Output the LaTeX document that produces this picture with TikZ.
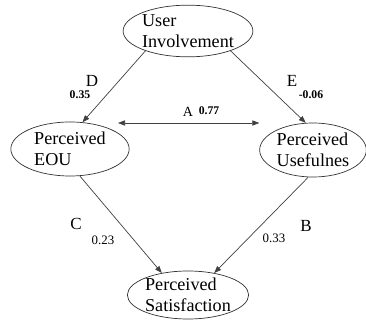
\documentclass[tikz,border=0pt]{standalone}
\usepackage{fontspec}
\setmainfont{Liberation Serif}
\usetikzlibrary{shapes,arrows.meta,positioning}

\begin{document}
\begin{tikzpicture}[x=0.03cm, y=-0.03cm,
    cn/.style={ellipse, draw=black!80, line width=0.6pt, inner sep=0pt, align=left, font=\fontsize{15.5}{18}\selectfont},
    lk/.style={draw=black!75, line width=0.6pt, -{Triangle[length=6pt,width=4.5pt]}},
    ltr/.style={inner sep=0pt, font=\fontsize{14.5}{15}\selectfont},
    val/.style={inner sep=0pt, font=\fontsize{10}{11}\selectfont\bfseries},
    num/.style={inner sep=0pt, font=\fontsize{11}{12}\selectfont}
]
    \useasboundingbox (0,0) rectangle (366,321);

    % Constructs
    \node[cn, minimum width=3.4cm, minimum height=1.55cm] (user) at (188,31) {User\\Involvement};
    \node[cn, minimum width=3.55cm, minimum height=1.62cm] (eou) at (70,149) {Perceived\\EOU};
    \node[cn, minimum width=3.2cm, minimum height=1.62cm] (puse) at (313,150) {Perceived\\Usefulnes};
    \node[cn, minimum width=3.4cm, minimum height=1.44cm] (sat) at (188,295) {Perceived\\Satisfaction};

    % Paths
    \draw[lk] (user.205) -- (eou.65);
    \draw[lk] (user.335) -- (puse.105);
    \draw[lk] (eou.290) -- (sat.140);
    \draw[lk] (puse.260) -- (sat.40);
    \coordinate (aL) at ([shift={(48,-26)}]eou.center);
    \coordinate (aR) at (aL -| puse.west);
    \draw[lk, {Triangle[length=6pt,width=4.5pt]}-{Triangle[length=6pt,width=4.5pt]}] (aL) -- (aR);

    % Path labels
    \node[ltr] (lD) at (92,81) {D};
    \node[val] (vD) at (80,95) {0.35};
    \node[ltr] (lE) at (292,81) {E};
    \node[val] (vE) at (311,95) {-0.06};
    \node[ltr, font=\fontsize{12}{13}\selectfont] (lA) at (188,112) {A};
    \node[val] (vA) at (209,111) {0.77};
    \node[ltr] (lC) at (76,224) {C};
    \node[num] (vC) at (103,240) {0.23};
    \node[ltr] (lB) at (306,226) {B};
    \node[num] (vB) at (274,238) {0.33};
\end{tikzpicture}
\end{document}
